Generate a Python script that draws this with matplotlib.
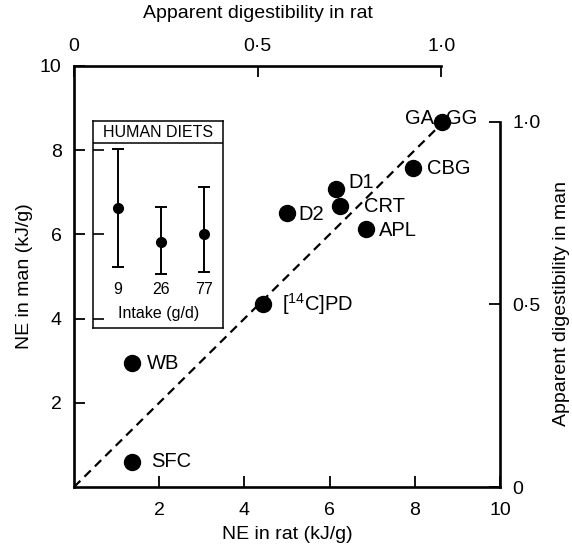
import matplotlib
matplotlib.use('Agg')
import matplotlib.pyplot as plt

plt.rcParams['font.family'] = ['Liberation Sans', 'DejaVu Sans']
plt.rcParams['mathtext.fontset'] = 'custom'
plt.rcParams['mathtext.rm'] = 'Liberation Sans'

# ---- data ----
foods = ['GA/GG', 'CBG', 'D1', 'CRT', 'D2', 'APL', '[14C]PD', 'WB', 'SFC']
ne_rat = [8.65, 7.95, 6.15, 6.24, 4.99, 6.85, 4.43, 1.35, 1.35]
ne_man = [8.68, 7.57, 7.07, 6.67, 6.50, 6.14, 4.35, 2.94, 0.60]
line_eq = [0, 8.65]          # line of equality (dashed)

xticks = [2, 4, 6, 8, 10]
yticks = [2, 4, 6, 8, 10]
dig_ticks = [0, 0.5, 1.0]
dig_ticklabels = ['0', '0\u00b75', '1\u00b70']
ne_at_dig1_rat = 8.62        # NE in rat corresponding to digestibility 1.0
ne_at_dig1_man = 8.67        # NE in man corresponding to digestibility 1.0

intake = ['9', '26', '77']
inset_mean = [6.63, 5.81, 6.00]
inset_low = [5.23, 5.06, 5.11]
inset_high = [8.02, 6.66, 7.12]

# label placement: (point index, text, dx px, dy px, ha)
label_specs = [
    (0, 'GA', -8, 3, 'right'),
    (0, 'GG', 4, 3, 'left'),
    (1, 'CBG', 14, 0, 'left'),
    (2, 'D1', 12, 7, 'left'),
    (3, 'CRT', 24, 0, 'left'),
    (4, 'D2', 12, -1, 'left'),
    (5, 'APL', 13, -2, 'left'),
    (6, '[$\\mathregular{^{14}}$C]PD', 19, 0, 'left'),
    (7, 'WB', 15, 0, 'left'),
    (8, 'SFC', 20, 0, 'left'),
]

W, H = 572, 549
fig = plt.figure(figsize=(W / 100, H / 100), dpi=100)
x0, x1, y0, y1 = 74, 500, 66, 487
ax = fig.add_axes([x0 / W, 1 - y1 / H, (x1 - x0) / W, (y1 - y0) / H])
ax.set_xlim(0, 10)
ax.set_ylim(0, 10)

lw_sp = 1.9
fs = 14
fs_pt = 14.5
fs_in = 11.5

ax.plot(line_eq, line_eq, color='black', lw=1.6, linestyle=(0, (4, 2.6)), zorder=2)
ax.plot(ne_rat, ne_man, 'o', color='black', markersize=11.5, zorder=3)

for idx, txt, dx, dy, ha in label_specs:
    ax.annotate(txt, (ne_rat[idx], ne_man[idx]), xytext=(dx, dy),
                textcoords='offset pixels', ha=ha, va='center', fontsize=fs_pt)

for s in ['top', 'right']:
    ax.spines[s].set_visible(False)
for s in ['left', 'bottom']:
    ax.spines[s].set_linewidth(lw_sp)
ax.set_xticks(xticks)
ax.set_yticks(yticks)
ax.tick_params(direction='in', length=8, width=1.3, labelsize=fs)
ax.tick_params(axis='x', pad=11)
ax.tick_params(axis='y', pad=9)
ax.set_xlabel('NE in rat (kJ/g)', fontsize=fs, labelpad=5)
ax.set_ylabel('NE in man (kJ/g)', fontsize=fs, labelpad=5)

# top axis: apparent digestibility in rat
axt = ax.twiny()
axt.set_xlim(0, 10 / ne_at_dig1_rat)
for s in ['left', 'right', 'bottom']:
    axt.spines[s].set_visible(False)
axt.spines['top'].set_bounds(0, 1)
axt.spines['top'].set_linewidth(lw_sp)
axt.set_xticks(dig_ticks)
axt.set_xticklabels(dig_ticklabels)
axt.tick_params(direction='in', length=8, width=1.3, labelsize=fs, pad=8)
axt.set_xlabel('Apparent digestibility in rat', fontsize=fs)
axt.xaxis.set_label_coords(0.432, 1.115)

# right axis: apparent digestibility in man
axr = ax.twinx()
axr.set_ylim(0, 10 / ne_at_dig1_man)
for s in ['left', 'top', 'bottom']:
    axr.spines[s].set_visible(False)
axr.spines['right'].set_bounds(0, 1)
axr.spines['right'].set_linewidth(lw_sp)
axr.set_yticks(dig_ticks)
axr.set_yticklabels(dig_ticklabels)
axr.tick_params(direction='in', length=8, width=1.3, labelsize=fs, pad=9)
axr.set_ylabel('Apparent digestibility in man', fontsize=fs)
axr.yaxis.set_label_coords(1.125, 0.435)

# inset: human diets
iy0, iy1 = 3.78, 8.69
ix0, ix1 = 0.45, 3.50
ins = ax.inset_axes([ix0, iy0, ix1 - ix0, iy1 - iy0], transform=ax.transData)
ins.set_ylim(iy0, iy1)
ins.set_xlim(-0.57, 2.44)
pos = list(range(len(intake)))
yerr = [[m - lo for m, lo in zip(inset_mean, inset_low)],
        [hi - m for m, hi in zip(inset_mean, inset_high)]]
ins.errorbar(pos, inset_mean, yerr=yerr, fmt='o', color='black', markersize=7,
             elinewidth=1.4, capsize=4, capthick=1.4)
for s in ins.spines.values():
    s.set_linewidth(1.1)
ins.set_xticks([])
ins.set_yticks([4, 6, 8])
ins.set_yticklabels([])
ins.tick_params(axis='y', direction='in', length=8, width=1.2)
ins.axhline(8.17, color='black', lw=1.1)
ins.text(0.5, 8.43, 'HUMAN DIETS', transform=ins.get_yaxis_transform(),
         ha='center', va='center', fontsize=fs_in)
for p, t in zip(pos, intake):
    ins.text(p, 4.70, t, ha='center', va='center', fontsize=fs_in)
ins.text(0.5, 4.13, 'Intake (g/d)', transform=ins.get_yaxis_transform(),
         ha='center', va='center', fontsize=fs_in)

fig.savefig('out.png', dpi=100)
